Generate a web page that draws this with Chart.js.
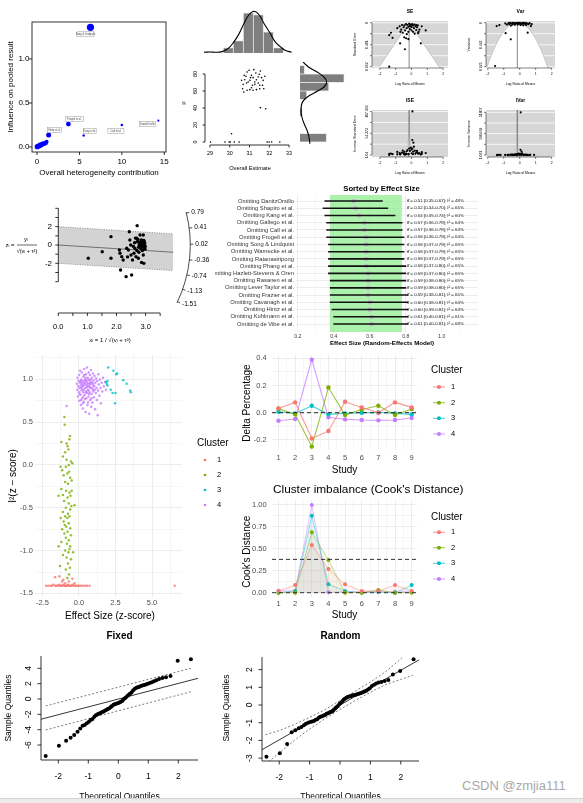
<!DOCTYPE html>
<html><head><meta charset="utf-8"><title>meta-analysis diagnostics</title>
<script src="https://cdn.jsdelivr.net/npm/chart.js@4.4.1/dist/chart.umd.min.js"></script>
<style>
html,body{margin:0;padding:0;background:#fff}
body{width:583px;height:803px;position:relative;overflow:hidden}
canvas{position:absolute}
#wm{position:absolute;left:462px;top:778px;font:13px "Liberation Sans",Arial,sans-serif;color:#a9a9a9;white-space:nowrap;z-index:10}
#bar{position:absolute;left:0;top:798px;width:583px;height:5px;background:#ececec;border-top:1px solid #d4d4d4;z-index:10}
</style></head><body>
<div id="wm">CSDN @zmjia111</div>
<div id="bar"></div>
<script>
// ===================== DATA =====================
const baujatX=[6.3,3.7,10.0,14.3,5.5,1.37,1.13,1.02,0.87,0.67,0.43,0.27,0.04,0.15,0.55];
const baujatY=[1.36,0.26,0.25,0.30,0.13,0.136,0.06,0.045,0.04,0.034,0.023,0.015,0.004,0.01,0.028];
const baujatSize=[3.6,2.4,1.3,1.1,1.2,2.5,2.0,2.2,2.4,2.5,2.6,2.6,2.7,2.4,2.3];
const baujatNames=["Song & Lindquist","Frogeli et al.","Call et al.","DanitzOrsillo","Kang et al.","Hintz et al."];
const baujatXTicks=[0,5,10,15];
const baujatYTicks=[0,0.5,1.0];
const goshPts=[[30.73,78.4],[30.88,82.4],[30.98,84.3],[31.10,78.4],[31.18,75.7],[30.76,73.3],[30.85,69.4],[30.93,70.6],[31.02,72.5],[31.15,66.7],[31.27,70.6],[31.35,73.3],[31.44,76.5],[31.49,79.6],[31.55,83.5],[31.32,81.2],[31.10,63.9],[30.88,60.8],[31.02,61.6],[31.18,60.8],[31.35,61.6],[31.52,62.7],[31.66,66.7],[31.72,62.7],[30.68,67.8],[30.65,62.7],[30.71,58.8],[31.44,69.4],[31.27,67.8],[31.22,85.1],[31.61,75.7],[31.69,72.5],[30.82,77.3],[31.05,75.7],[31.52,66.7],[30.60,72.5],[31.77,77.3],[29.03,0],[29.76,0],[29.97,0],[30.03,0],[30.23,0],[30.48,0],[31.89,0],[31.99,0],[32.12,0],[32.53,0],[31.55,40.4],[31.82,39.2],[30.09,9.8]];
const goshXTicks=[29,30,31,32,33];
const goshYTicks=[0,20,40,60,80];
const goshHistMid=[29.92,30.42,30.92,31.42,31.92,32.42];
const goshHistN=[3,7,23,22,12,3];
const goshDensTop=[[28.7,0.4],[29.0,0.6],[29.3,0.4],[29.6,0.8],[29.9,2.5],[30.17,6],[30.45,11],[30.7,17],[30.95,22],[31.2,24],[31.45,22],[31.7,17],[32.0,11.5],[32.25,6.5],[32.5,3.8],[32.75,1.6],[33.08,0.4]];
const goshRightMid=[5,15,25,35,45,55,65,75,85];
const goshRightN=[12,0,0,1,0,3,13,20,2];
const goshDensRight=[[1.0,98],[1.5,94],[4,88],[8,82],[11,76],[12.1,71],[11,65],[8,60],[4.5,55],[2,50],[0.8,45],[0.5,38],[0.8,30],[1.8,22],[3,15],[3.8,9],[4.2,4],[4.5,-2]];
const funnelEst=-0.15;
const funnelXTicks=[-2,-1,0,1,2];
const seData=[[-0.75,0.08],[-0.6,0.05],[-0.5,0.1],[-0.45,0.06],[-0.35,0.03],[-0.3,0.12],[-0.25,0.05],[-0.2,0.09],[-0.15,0.025],[-0.1,0.07],[-0.05,0.04],[0,0.1],[0.05,0.03],[0.1,0.06],[0.15,0.12],[0.2,0.04],[0.25,0.08],[0.3,0.05],[0.35,0.1],[0.4,0.06],[0.5,0.15],[-0.65,0.15],[-0.4,0.17],[-0.2,0.2],[0,0.17],[0.1,0.2],[-0.55,0.22],[0.3,0.16],[-0.1,0.14],[0.45,0.2],[-0.7,0.2],[-0.3,0.25],[0.2,0.24],[-1.3,0.22],[-1.41,0.27],[-1.2,0.33],[-0.72,0.45],[-0.46,0.32],[-0.34,0.34],[-0.2,0.36],[-0.42,0.58],[0.59,0.45],[0.9,0.17],[0.42,0.23],[-1.41,0.96],[0.65,0.08],[-0.9,0.12],[0.05,0.05],[-0.02,0.08]];
const varData=[[-0.7,0.01],[-0.6,0.004],[-0.5,0.012],[-0.42,0.003],[-0.35,0.02],[-0.28,0.006],[-0.22,0.015],[-0.15,0.002],[-0.1,0.01],[-0.05,0.025],[0,0.005],[0.05,0.015],[0.1,0.03],[0.15,0.008],[0.2,0.02],[0.25,0.004],[0.3,0.012],[0.35,0.025],[0.4,0.006],[0.48,0.018],[0.55,0.03],[0.62,0.01],[-0.65,0.03],[-0.45,0.04],[-0.3,0.045],[-0.12,0.04],[0.05,0.05],[0.22,0.055],[-0.55,0.06],[0.4,0.05],[-1.44,0.07],[-1.27,0.05],[-0.88,0.22],[-0.56,0.35],[0.5,0.21],[0.75,0.03],[-1.54,0.91],[-0.9,0.015],[-0.8,0.04],[0.7,0.07]];
const iseData=[[0.06,108],[0.05,37.8],[0.12,31.2],[0.15,21.4],[-0.05,19],[-0.15,17],[0.0,14],[0.2,12],[-0.3,10],[-0.25,13],[-0.1,11],[0.1,9],[0.3,8],[-0.45,9],[-0.6,7],[-0.75,6],[-0.5,5],[0.4,6],[0.5,5],[0.65,4],[-0.35,4.5],[0.25,4],[-0.2,3.5],[0,5],[0.1,3],[-0.7,3.5],[-0.4,3],[-0.9,2.5],[-1.3,4.5],[-1.41,3.7],[-1.2,3],[-0.72,2.2],[-0.46,3.1],[-0.34,2.9],[-0.2,2.8],[-0.42,1.7],[0.59,2.2],[0.9,5.9],[0.42,4.3],[-1.41,1.04],[0.65,8],[-0.9,8.5],[0.35,11],[-0.55,12],[0.05,17]];
const ivarData=[[0.06,11807],[0.05,1430],[0.12,975],[0.15,458],[-0.05,361],[-0.15,289],[0.0,196],[0.2,144],[-0.3,100],[-0.25,169],[-0.1,121],[0.1,81],[0.3,64],[-0.45,81],[-0.6,49],[-0.75,36],[-0.5,25],[0.4,36],[0.5,25],[0.65,16],[-0.35,20],[0.25,16],[-0.2,12],[0,25],[0.1,9],[-0.7,12],[-0.4,9],[-0.9,6],[-1.3,20],[-1.41,14],[-1.2,9],[-0.72,5],[-0.46,10],[-0.34,8],[-0.2,8],[-0.42,3],[0.59,5],[0.9,35],[0.42,18],[-1.41,1.08],[0.65,64],[-0.9,72],[0.35,121],[-0.55,144],[0.05,289]];
const seTicks=[0,0.2405,0.481,0.7215,0.962], seTickLab=['0','','0.481','','0.962'];
const varTicks=[0,0.231,0.463,0.694,0.925], varTickLab=['0','','0.463','','0.925'];
const iseTicks=[1.04,27.657,54.273,80.89,107.506], iseTickLab=['1.04','','54.273','','107.506'];
const ivarTicks=[1.081,2952.56,5904.04,8855.52,11807], ivarTickLab=['1.081','','5904.04','','11807'];
const radPts=[[1.03,-1.45],[1.51,-0.73],[1.81,0.91],[1.81,-1.45],[2.10,-0.55],[2.12,-0.9],[2.18,-1.27],[2.23,-1.64],[2.14,-2.73],[2.33,-3.45],[2.52,-3.27],[2.44,1.45],[2.46,0.55],[2.49,0.0],[2.41,-0.55],[2.50,-1.09],[2.55,-1.64],[2.35,-0.35],[2.38,-1.3],[2.6,-0.9],[2.71,2.11],[2.69,0.73],[2.71,0.36],[2.63,-0.36],[2.67,-1.27],[2.75,-1.45],[2.81,1.09],[2.86,0.55],[2.81,0.18],[2.92,1.09],[2.92,-1.09],[2.94,-2.0],[2.86,-1.9],[2.78,0.0],[2.82,-0.1],[2.85,0.1],[2.88,-0.2],[2.9,0.2],[2.93,0.0],[2.95,-0.3],[2.97,0.15],[2.8,0.3],[2.84,-0.4],[2.87,0.4],[2.91,-0.05],[2.96,0.32],[2.99,-0.15],[2.76,-0.25],[2.83,0.22],[2.89,-0.6],[2.94,0.5],[2.74,0.6],[2.65,0.75],[2.58,-0.15],[2.7,-0.6],[2.98,-0.45],[2.77,-0.8],[2.62,0.25]];
const radSlope=-0.2, radBand=2, radXEnd=3.95;
const radYTicks=[-4,-3,-2,-1,0,1,2,3,4], radYLab=['','','-2','','0','','2','',''];
const radXTicks=[0,0.5,1,1.5,2,2.5,3,3.5], radXLab=['0.0','','1.0','','2.0','','3.0',''];
const radArcTicks=[0.79,0.41,0.02,-0.36,-0.74,-1.13,-1.51];
const forestNames=["Omitting DanitzOrsillo","Omitting Shapiro et al.","Omitting Kang et al.","Omitting Gallego et al.","Omitting Call et al.","Omitting Frogeli et al.","Omitting Song & Lindquist","Omitting Warnecke et al.","Omitting Ratanasiripong","Omitting Phang et al.","Omitting Hazlett-Stevens & Oren","Omitting Rasanen et al.","Omitting Lever Taylor et al.","Omitting Frazier et al.","Omitting Cavanagh et al.","Omitting Hintz et al.","Omitting Kuhlmann et al.","Omitting de Vibe et al."];
const forestEst=[0.51,0.52,0.54,0.57,0.57,0.58,0.58,0.58,0.58,0.58,0.59,0.59,0.59,0.59,0.60,0.60,0.61,0.61];
const forestLo=[0.35,0.34,0.35,0.36,0.36,0.36,0.37,0.37,0.37,0.37,0.37,0.38,0.38,0.38,0.38,0.39,0.40,0.40];
const forestHi=[0.67,0.70,0.74,0.78,0.78,0.79,0.79,0.79,0.79,0.80,0.80,0.80,0.80,0.81,0.81,0.81,0.81,0.81];
const forestI2=[48,65,60,64,64,64,65,65,65,65,65,65,65,65,64,64,61,68];
const forestBand=[0.378,0.778];
const forestXTicks=[0.2,0.3,0.4,0.5,0.6,0.7,0.8,0.9,1.0,1.1];
const cl1=[[-2.25,-1.41],[-2.1,-1.41],[-1.95,-1.41],[-1.85,-1.41],[-1.75,-1.4],[-1.62,-1.41],[-1.55,-1.41],[-1.45,-1.41],[-1.38,-1.4],[-1.3,-1.41],[-1.22,-1.41],[-1.15,-1.41],[-1.08,-1.4],[-1.0,-1.41],[-0.95,-1.41],[-0.88,-1.41],[-0.8,-1.41],[-0.75,-1.4],[-0.68,-1.41],[-0.6,-1.41],[-0.52,-1.41],[-0.45,-1.4],[-0.38,-1.41],[-0.3,-1.41],[-0.2,-1.41],[-0.1,-1.41],[0.0,-1.41],[0.12,-1.41],[0.25,-1.41],[0.4,-1.41],[0.55,-1.41],[0.72,-1.41],[6.55,-1.41],[-1.64,-1.31],[-1.34,-1.3],[-1.07,-1.34],[-0.95,-1.38],[-0.7,-1.36],[-0.45,-1.33],[-1.15,-1.36],[-0.3,-1.38]];
const cl2=[[-1.0,0.56],[-0.98,0.47],[-1.2,0.27],[-0.62,0.34],[-0.66,0.3],[-0.78,0.22],[-0.72,0.18],[-0.95,0.15],[-1.1,0.1],[-0.85,0.06],[-0.55,0.04],[-1.25,-0.02],[-1.15,-0.06],[-0.9,-0.02],[-0.7,0.0],[-0.45,0.02],[-0.8,-0.1],[-1.05,-0.12],[-0.6,-0.15],[-0.95,-0.2],[-0.75,-0.22],[-0.5,-0.18],[-1.2,-0.28],[-0.88,-0.3],[-0.65,-0.32],[-1.4,-0.36],[-0.78,-0.38],[-0.58,-0.36],[-1.02,-0.42],[-0.7,-0.45],[-0.52,-0.48],[-0.3,-0.47],[-0.9,-0.5],[-0.6,-0.52],[-1.1,-0.55],[-0.75,-0.57],[-0.95,-0.6],[-0.8,-0.62],[-0.65,-0.6],[-1.05,-0.66],[-0.7,-0.68],[-0.87,-0.72],[-1.15,-0.75],[-0.6,-0.74],[-0.78,-0.78],[-1.0,-0.8],[-0.55,-0.82],[-0.9,-0.85],[-0.7,-0.88],[-1.2,-0.9],[-0.82,-0.92],[-1.4,-0.95],[-0.6,-0.95],[-0.95,-1.0],[-0.72,-1.02],[-0.4,-1.02],[-1.1,-1.05],[-0.85,-1.08],[-0.55,-1.1],[-0.75,-1.15],[-1.3,-1.18],[-0.62,-1.2],[-0.9,-1.22],[-0.68,-1.28],[-0.8,-1.32],[-1.25,-0.62],[-1.1,-0.35],[-0.68,-0.08],[-0.85,0.25],[-0.5,-0.3],[-0.98,-0.7],[-0.65,-0.98]];
const cl3=[[2.0,1.14],[2.35,1.10],[2.6,1.07],[2.55,1.06],[1.85,0.97],[1.95,0.93],[1.9,0.95],[2.17,0.88],[2.3,0.84],[2.5,0.84],[2.47,0.72],[3.03,0.99],[3.26,0.95],[3.5,0.87],[3.55,0.85],[1.95,0.98]];
const cl4=[[-0.84,0.69],[-0.15,0.95],[-0.12,0.88],[-0.1,1.02],[-0.08,0.8],[-0.05,0.92],[-0.03,0.98],[0.0,0.85],[0.02,1.05],[0.03,0.75],[0.05,0.9],[0.07,0.96],[0.08,1.1],[0.1,0.82],[0.12,0.93],[0.13,0.7],[0.15,1.0],[0.17,0.87],[0.18,0.95],[0.2,1.08],[0.21,0.78],[0.23,0.91],[0.25,0.98],[0.26,0.66],[0.28,0.85],[0.3,1.03],[0.31,0.93],[0.33,0.74],[0.35,0.88],[0.36,1.12],[0.38,0.96],[0.4,0.82],[0.41,1.0],[0.43,0.9],[0.45,0.62],[0.46,0.94],[0.48,1.06],[0.5,0.86],[0.51,0.78],[0.53,0.97],[0.55,1.14],[0.56,0.91],[0.58,0.7],[0.6,1.02],[0.61,0.88],[0.63,0.95],[0.65,0.8],[0.66,1.08],[0.68,0.92],[0.7,0.6],[0.71,0.99],[0.73,0.85],[0.75,1.05],[0.76,0.76],[0.78,0.94],[0.8,0.9],[0.82,1.11],[0.83,0.68],[0.85,0.97],[0.87,0.83],[0.88,1.02],[0.9,0.9],[0.92,0.73],[0.94,0.95],[0.96,1.07],[0.98,0.86],[1.0,0.99],[1.02,0.79],[1.04,0.92],[1.06,1.04],[1.08,0.88],[1.1,0.65],[1.12,0.96],[1.15,0.84],[1.17,1.01],[1.2,0.9],[1.22,0.76],[1.25,0.98],[1.28,0.58],[1.3,0.87],[1.33,1.06],[1.36,0.94],[1.4,0.81],[1.43,1.0],[1.47,0.9],[1.5,0.72],[1.55,0.96],[1.6,0.86],[1.65,1.02],[1.7,0.92],[1.78,0.97],[1.85,0.88],[0.15,0.9],[0.25,0.88],[0.35,0.95],[0.45,0.85],[0.55,0.92],[0.65,0.87],[0.75,0.96],[0.2,0.97],[0.4,0.98],[0.6,0.95],[0.3,0.8],[0.5,0.99],[0.7,0.83],[0.8,1.0],[0.1,0.98],[0.9,0.96],[0.35,1.05],[0.55,0.84],[0.45,1.02],[0.25,0.93],[0.65,1.0],[0.05,0.83],[0.95,0.88],[0.15,0.76],[0.85,0.78],[1.0,0.93],[0.28,0.72],[0.62,0.73],[0.42,0.77],[0.72,0.91]];
const clusterLabels=['1','2','3','4'];
const studies=[1,2,3,4,5,6,7,8,9];
const delta1=[0.032,0.076,-0.19,-0.134,0.08,0.039,0.0,0.076,0.039];
const delta2=[0.03,-0.012,-0.249,0.185,-0.017,0.024,0.051,-0.017,0.027];
const delta3=[0.007,-0.005,0.051,-0.012,-0.005,0.0,0.002,-0.005,-0.012];
const delta4=[-0.059,-0.046,0.39,-0.034,-0.049,-0.054,-0.056,-0.054,-0.039];
const cook1=[0.02,0.087,0.544,0.27,0.095,0.02,0.02,0.087,0.02];
const cook2=[0,0,0.688,0.373,0,0,0.03,0,0];
const cook3=[0,0.02,0.878,0.095,0.02,0,0.01,0,0.087];
const cook4=[0.022,0.02,1.0,0.004,0.01,0.01,0.01,0.01,0.01];
const cookCut=0.38;
const qqTheo=[-2.42,-1.98,-1.74,-1.59,-1.47,-1.36,-1.27,-1.19,-1.12,-1.05,-0.98,-0.92,-0.86,-0.8,-0.75,-0.69,-0.64,-0.59,-0.54,-0.49,-0.44,-0.39,-0.35,-0.3,-0.25,-0.21,-0.16,-0.12,-0.07,-0.02,0.02,0.07,0.12,0.16,0.21,0.25,0.3,0.35,0.39,0.44,0.49,0.54,0.59,0.64,0.69,0.75,0.8,0.86,0.92,0.98,1.05,1.12,1.19,1.27,1.36,1.47,1.59,1.74,1.98,2.42];
const qqFixed=[-7.43,-6.08,-5.43,-5.04,-4.69,-4.26,-3.83,-3.5,-3.39,-3.15,-2.95,-2.75,-2.6,-2.3,-2.12,-2.0,-1.9,-1.82,-1.7,-1.62,-1.5,-1.4,-1.3,-1.2,-1.05,-0.9,-0.75,-0.68,-0.62,-0.56,-0.48,-0.4,-0.3,-0.1,0.05,0.2,0.4,0.55,0.7,0.85,1.1,1.3,1.42,1.52,1.58,1.68,1.75,1.83,1.9,2.0,2.08,2.18,2.3,2.45,2.6,2.75,2.85,3.0,5.0,5.17];
const qqRandom=[-2.92,-2.73,-2.2,-1.54,-1.42,-1.32,-1.25,-1.15,-1.06,-1.0,-0.96,-0.93,-0.9,-0.84,-0.8,-0.7,-0.66,-0.63,-0.6,-0.56,-0.5,-0.46,-0.43,-0.4,-0.35,-0.28,-0.2,-0.13,-0.06,0.05,0.12,0.2,0.3,0.36,0.41,0.45,0.48,0.5,0.53,0.55,0.57,0.59,0.62,0.65,0.68,0.72,0.76,0.8,0.87,0.95,1.07,1.15,1.22,1.27,1.3,1.35,1.41,1.73,1.92,2.58];
const fixedLine=[[-2.59,-2.65],[2.66,2.7]];
const fixedUpper=[[-2.42,-0.91],[2.42,4.0]];
const fixedLower=[[-2.42,-4.04],[2.42,0.95]];
const randLine=[[-2.58,-2.54],[2.63,2.58]];
const randUpper=[[-2.45,-1.68],[-2.0,-1.45],[-1.5,-1.1],[-1.0,-0.7],[-0.5,-0.27],[0,0.25],[0.5,0.78],[1.0,1.3],[1.5,1.88],[2.0,2.6],[2.3,3.1]];
const randLower=[[-2.35,-3.2],[-2.0,-2.72],[-1.5,-2.0],[-1.0,-1.35],[-0.5,-0.78],[0,-0.25],[0.5,0.25],[1.0,0.72],[1.5,1.15],[2.0,1.45],[2.4,1.68]];
const qqXTicks=[-2,-1,0,1,2];
const fixedYTicks=[-6,-4,-2,0,2,4];
const randYTicks=[-3,-2,-1,0,1,2];

// ===================== HELPERS =====================
const FF='"Liberation Sans", Arial, Helvetica, sans-serif';
Chart.defaults.animation=false;Chart.defaults.responsive=false;Chart.defaults.maintainAspectRatio=false;
Chart.defaults.events=[];Chart.defaults.font.family=FF;
Chart.defaults.plugins.legend.display=false;Chart.defaults.plugins.tooltip.enabled=false;
const F=(s,w)=>(w?w+' ':'')+s+'px '+FF;
const ROT=-Math.PI/2;
const CL=['#F8766D','#7CAE00','#00BFC4','#C77CFF'];
function rgba(h,a){const n=parseInt(h.slice(1),16);return 'rgba('+(n>>16)+','+((n>>8)&255)+','+(n&255)+','+a+')';}
function mk(b){const c=document.createElement('canvas');c.width=b.w;c.height=b.h;c.style.left=b.l+'px';c.style.top=b.t+'px';c.style.width=b.w+'px';c.style.height=b.h+'px';document.body.appendChild(c);return c;}
function P(b,a){return{left:a.l-b.l,top:a.t-b.t,right:b.l+b.w-a.r,bottom:b.t+b.h-a.b};}
function HS(min,max,rev){return{type:'linear',display:false,min:min,max:max,reverse:!!rev,offset:false,grid:{offset:false}};}
function T(ctx,s,x,y,o){o=o||{};ctx.save();ctx.font=o.f||F(8);ctx.fillStyle=o.c||'#000';ctx.textAlign=o.a||'center';ctx.textBaseline=o.b||'middle';ctx.translate(x,y);if(o.r)ctx.rotate(o.r);ctx.fillText(s,0,0);ctx.restore();}
let UID=0;
function after(b,fn,hook){const p={id:'p'+(UID++)};p[hook||'afterDraw']=function(c){const ctx=c.ctx;ctx.save();ctx.translate(-b.l,-b.t);fn(c,ctx);ctx.restore();};return p;}
function A(c,b){const a=c.chartArea;return{l:a.left+b.l,r:a.right+b.l,t:a.top+b.t,bo:a.bottom+b.t};}
function X(c,b,v){return c.scales.x.getPixelForValue(v)+b.l;}
function Y(c,b,v){return c.scales.y.getPixelForValue(v)+b.t;}
function rAxis(c,b,s){
  const ctx=c.ctx,a=A(c,b),tl=(s.tl==null?3:s.tl),col=s.col||'#000';
  ctx.save();ctx.strokeStyle=col;ctx.lineWidth=s.lw||0.8;ctx.beginPath();
  if(s.side==='b'){
    const y=(s.pos==null?a.bo:s.pos),Pp=s.ticks.map(v=>X(c,b,v));
    if(s.line!==false){ctx.moveTo(s.full?a.l:Pp[0],y);ctx.lineTo(s.full?a.r:Pp[Pp.length-1],y);}
    Pp.forEach(p=>{ctx.moveTo(p,y);ctx.lineTo(p,y+tl);});ctx.stroke();
    Pp.forEach((p,i)=>{if(s.labels[i])T(ctx,s.labels[i],p,y+s.lo,{f:s.font,c:col});});
  }else{
    const x=(s.pos==null?a.l:s.pos),Pp=s.ticks.map(v=>Y(c,b,v));
    if(s.line!==false){ctx.moveTo(x,s.full?a.t:Math.min.apply(null,Pp));ctx.lineTo(x,s.full?a.bo:Math.max.apply(null,Pp));}
    Pp.forEach(p=>{ctx.moveTo(x,p);ctx.lineTo(x-tl,p);});ctx.stroke();
    Pp.forEach((p,i)=>{if(s.labels[i])T(ctx,s.labels[i],x-s.lo,p,s.horiz?{f:s.font,c:col,a:'right'}:{f:s.font,c:col,r:ROT});});
  }
  ctx.restore();
}
function ggAxis(o){
  return {type:'linear',min:o.min,max:o.max,reverse:!!o.reverse,offset:false,
    afterFit(s){if(o.axis==='x')s.height=o.fit;else s.width=o.fit;},
    afterBuildTicks(s){s.ticks=o.ticks.map(v=>({value:v}));},
    ticks:{autoSkip:false,maxRotation:0,minRotation:0,padding:o.pad,color:o.color||'#4d4d4d',font:{size:o.size,family:FF},
      callback:(v)=>o.major(v)?o.label(v):''},
    grid:{color:'#ebebeb',offset:false,lineWidth:(cx)=>(cx.tick&&o.major(cx.tick.value))?0.9:0.45,drawTicks:false},
    border:{display:false}};
}
function ggLegend(ctx,x,ty,ys,line,r){
  T(ctx,'Cluster',x,ty,{f:F(10),a:'left'});
  ys.forEach((y,i)=>{
    if(line){ctx.save();ctx.strokeStyle=rgba(CL[i],0.75);ctx.lineWidth=1;ctx.beginPath();ctx.moveTo(x+2,y);ctx.lineTo(x+14,y);ctx.stroke();ctx.restore();}
    ctx.save();ctx.fillStyle=CL[i];ctx.beginPath();ctx.arc(x+8,y,r,0,7);ctx.fill();ctx.restore();
    T(ctx,clusterLabels[i],x+20,y,{f:F(7.5),a:'left',c:'#000'});
  });
}
const isMult=(v,m)=>Math.abs(v/m-Math.round(v/m))<1e-6;

// ===================== A. BAUJAT =====================
{const b={l:0,t:0,w:180,h:185},a={l:32,t:22,r:166,b:152};
const LOFF=[[-5,7,17],[6,-5,18],[-6,6,16],[-11,3.5,16],[6,-4.5,13],[6,-5,14]];
new Chart(mk(b),{type:'scatter',data:{datasets:[{data:baujatX.map((x,i)=>({x:x,y:baujatY[i]})),pointRadius:baujatSize,backgroundColor:'#0000ff',borderWidth:0}]},
options:{layout:{padding:P(b,a)},scales:{x:HS(-0.59,15.2),y:HS(-0.057,1.42)}},
plugins:[after(b,(c,ctx)=>{
  const r=A(c,b);ctx.strokeStyle='#000';ctx.lineWidth=0.8;ctx.strokeRect(r.l,r.t,r.r-r.l,r.bo-r.t);
  rAxis(c,b,{side:'b',ticks:baujatXTicks,labels:baujatXTicks.map(String),tl:3,lo:10,font:F(8),line:false});
  rAxis(c,b,{side:'l',ticks:baujatYTicks,labels:baujatYTicks.map(v=>v.toFixed(1)),tl:3,lo:2.5,font:F(8),line:false,horiz:true});
  T(ctx,'Overall heterogeneity contribution',(r.l+r.r)/2,173,{f:F(8)});
  T(ctx,'Influence on pooled result',11,(r.t+r.bo)/2,{f:F(8),r:ROT});
  baujatNames.forEach((n,i)=>{const o=LOFF[i];const cx=X(c,b,baujatX[i])+o[0],cy=Y(c,b,baujatY[i])+o[1],w=o[2],h=5;
    ctx.fillStyle='#fff';ctx.fillRect(cx-w/2,cy-h/2,w,h);ctx.strokeStyle='#9a9a9a';ctx.lineWidth=0.5;ctx.strokeRect(cx-w/2,cy-h/2,w,h);
    T(ctx,n,cx,cy,{f:F(2.6),c:'#444'});});
})]});}

// ===================== B. GOSH =====================
{const b={l:195,t:0,w:110,h:58},a={l:200,t:5,r:300,b:53};
new Chart(mk(b),{type:'bar',data:{datasets:[
  {type:'line',data:goshDensTop.map(p=>({x:p[0],y:p[1]})),borderColor:'#000',borderWidth:1.1,pointRadius:0,tension:0.4,order:0},
  {type:'bar',data:goshHistMid.map((x,i)=>({x:x,y:goshHistN[i]})),backgroundColor:'#7f7f7f',borderColor:'#d9d9d9',borderWidth:0.8,barPercentage:1,categoryPercentage:1,order:1}
]},options:{layout:{padding:P(b,a)},scales:{x:HS(28.5,33.5),y:HS(0,27.6)}}});}
{const b={l:176,t:55,w:124,h:122},a={l:205,t:62,r:297,b:145};
new Chart(mk(b),{type:'scatter',data:{datasets:[{data:goshPts.map(p=>({x:p[0],y:p[1]})),pointRadius:0.8,backgroundColor:'#000',borderWidth:0}]},
options:{layout:{padding:P(b,a)},scales:{x:HS(28.75,33.35),y:HS(-3.5,94.1)}},
plugins:[after(b,(c,ctx)=>{
  rAxis(c,b,{side:'b',ticks:goshXTicks,labels:goshXTicks.map(String),tl:2.5,lo:9,font:F(5.4)});
  rAxis(c,b,{side:'l',ticks:goshYTicks,labels:goshYTicks.map(String),tl:2.5,lo:9,font:F(5.4)});
  T(ctx,'Overall Estimate',250,168,{f:F(5.7)});
  T(ctx,'I\u00B2',184,103,{f:F(5.7),r:ROT});
})]});}
{const b={l:298,t:55,w:58,h:100},a={l:300,t:62,r:352,b:145};
new Chart(mk(b),{type:'bar',data:{datasets:[
  {type:'line',data:goshDensRight.map(p=>({x:p[0],y:p[1]})),borderColor:'#000',borderWidth:1.1,pointRadius:0,tension:0.4,order:0},
  {type:'bar',indexAxis:'y',data:goshRightMid.map((y,i)=>({x:goshRightN[i],y:y})),backgroundColor:'#7f7f7f',borderColor:'#d9d9d9',borderWidth:0.8,barPercentage:1,categoryPercentage:1,order:1}
]},options:{layout:{padding:P(b,a)},scales:{x:HS(0,23.6),y:HS(-3.5,94.1)}}});}

// ===================== C. FUNNELS =====================
function funnel(b,a,xr,yr,rev,kind,pts,yt,ylab,title,ytitle){
  new Chart(mk(b),{type:'scatter',data:{datasets:[{data:pts.map(p=>({x:p[0],y:p[1]})),pointRadius:1.1,backgroundColor:'#000',borderWidth:0}]},
  options:{layout:{padding:P(b,a)},scales:{x:HS(xr[0],xr[1]),y:HS(yr[0],yr[1],rev)}},
  plugins:[after(b,(c,ctx)=>{
    const r=A(c,b);ctx.save();ctx.beginPath();ctx.rect(r.l,r.t,r.r-r.l,r.bo-r.t);ctx.clip();
    ctx.fillStyle='#d6d6d6';ctx.fillRect(r.l,r.t,r.r-r.l,r.bo-r.t);
    ctx.strokeStyle='#fff';ctx.lineWidth=0.8;ctx.beginPath();yt.forEach(v=>{const y=Y(c,b,v);ctx.moveTo(r.l,y);ctx.lineTo(r.r,y);});ctx.stroke();
    const hw=v=>kind==='se'?1.96*v:kind==='var'?1.96*Math.sqrt(v):kind==='ise'?1.96/v:1.96/Math.sqrt(v);
    const N=240,L=[],R=[];
    for(let i=0;i<=N;i++){const t=i/N;let v;if(kind==='se'||kind==='var'){v=yr[1]*t;}else{const lo=kind==='ise'?0.3:0.1;v=lo*Math.pow(yr[1]/lo,t);}
      const h=hw(v);L.push([X(c,b,funnelEst-h),Y(c,b,v)]);R.push([X(c,b,funnelEst+h),Y(c,b,v)]);}
    ctx.fillStyle='#fff';ctx.beginPath();L.forEach((p,i)=>i?ctx.lineTo(p[0],p[1]):ctx.moveTo(p[0],p[1]));R.slice().reverse().forEach(p=>ctx.lineTo(p[0],p[1]));ctx.closePath();ctx.fill();
    ctx.strokeStyle='#9a9a9a';ctx.lineWidth=0.5;ctx.beginPath();L.forEach((p,i)=>i?ctx.lineTo(p[0],p[1]):ctx.moveTo(p[0],p[1]));ctx.stroke();
    ctx.beginPath();R.forEach((p,i)=>i?ctx.lineTo(p[0],p[1]):ctx.moveTo(p[0],p[1]));ctx.stroke();
    const cx=X(c,b,funnelEst);const y0=(kind==='se'||kind==='var')?Y(c,b,0):r.bo;const y1=(kind==='se'||kind==='var')?r.bo:r.t;
    ctx.strokeStyle='#555';ctx.lineWidth=0.7;ctx.beginPath();ctx.moveTo(cx,y0);ctx.lineTo(cx,y1);ctx.stroke();
    ctx.restore();
  },'beforeDatasetsDraw'),after(b,(c,ctx)=>{
    const r=A(c,b);
    rAxis(c,b,{side:'l',ticks:yt,labels:ylab,tl:2,lo:5,font:F(3.4),lw:0.5});
    rAxis(c,b,{side:'b',ticks:funnelXTicks,labels:funnelXTicks.map(String),tl:2,lo:6,font:F(3.4),lw:0.5});
    T(ctx,title,(r.l+r.r)/2,r.t-9,{f:F(5,'bold')});
    T(ctx,'Log Ratio of Means',(r.l+r.r)/2,r.bo+16,{f:F(3.4)});
    T(ctx,ytitle,r.l-17,(r.t+r.bo)/2,{f:F(3.6),r:ROT});
  })]});
}
funnel({l:340,t:3,w:112,h:92},{l:372,t:21,r:448,b:68},[-2.5,2.31],[-0.037,0.99],true,'se',seData,seTicks,seTickLab,'SE','Standard Error');
funnel({l:452,t:3,w:110,h:92},{l:486,t:21,r:555,b:68},[-2.11,2.21],[-0.036,0.952],true,'var',varData,varTicks,varTickLab,'Var','Variance');
funnel({l:340,t:92,w:112,h:88},{l:372,t:110,r:448,b:157},[-2.5,2.31],[-3.87,111.4],false,'ise',iseData,iseTicks,iseTickLab,'ISE','Inverse Standard Error');
funnel({l:452,t:92,w:110,h:88},{l:486,t:110,r:555,b:157},[-2.11,2.21],[-552,12443],false,'ivar',ivarData,ivarTicks,ivarTickLab,'IVar','Inverse Variance');

// ===================== D. RADIAL =====================
{const b={l:0,t:195,w:215,h:155},a={l:40,t:200,r:200,b:305};
new Chart(mk(b),{type:'scatter',data:{datasets:[
  {type:'line',data:[{x:0,y:radBand},{x:radXEnd,y:radBand+radXEnd*radSlope}],borderColor:'#777',borderWidth:0.7,borderDash:[1.2,1.2],pointRadius:0,fill:'+1',backgroundColor:'#d3d3d3',order:3},
  {type:'line',data:[{x:0,y:-radBand},{x:radXEnd,y:-radBand+radXEnd*radSlope}],borderColor:'#777',borderWidth:0.7,borderDash:[1.2,1.2],pointRadius:0,fill:false,order:2},
  {type:'line',data:[{x:0,y:0},{x:radXEnd,y:radXEnd*radSlope}],borderColor:'#555',borderWidth:0.8,pointRadius:0,fill:false,order:1},
  {type:'scatter',data:radPts.map(p=>({x:p[0],y:p[1]})),pointRadius:1.7,backgroundColor:'#000',borderWidth:0,order:0}
]},options:{layout:{padding:P(b,a)},scales:{x:HS((40-58.3)/29.1,(200-58.3)/29.1),y:HS((245-305)/9.17,(245-200)/9.17)}},
plugins:[after(b,(c,ctx)=>{
  rAxis(c,b,{side:'l',pos:X(c,b,0),ticks:radYTicks,labels:radYLab,tl:3,lo:6.3,font:F(8),horiz:true});
  rAxis(c,b,{side:'b',pos:313,ticks:radXTicks,labels:radXLab,tl:3,lo:14,font:F(7.5)});
  T(ctx,'x\u1D62 = 1 / \u221A(v\u1D62 + \u03C4\u00B2)',110,340,{f:F(6)});
  T(ctx,'z\u1D62 =',10,245,{f:F(6)});
  T(ctx,'y\u1D62',26,239,{f:F(6)});
  ctx.strokeStyle='#000';ctx.lineWidth=0.6;ctx.beginPath();ctx.moveTo(17,245);ctx.lineTo(37,245);ctx.stroke();
  T(ctx,'\u221A(v\u1D62 + \u03C4\u00B2)',27,251.5,{f:F(5.5)});
  const ox=X(c,b,0),oy=Y(c,b,0),R=132;
  const dir=t=>{const dx=X(c,b,1)-ox,dy=Y(c,b,t)-oy,n=Math.hypot(dx,dy);return[dx/n,dy/n];};
  const angs=radArcTicks.map(t=>{const d=dir(t);return Math.atan2(d[1],d[0]);});
  ctx.strokeStyle='#000';ctx.lineWidth=0.7;ctx.beginPath();ctx.arc(ox,oy,R,Math.min.apply(null,angs)-0.01,Math.max.apply(null,angs)+0.01);ctx.stroke();
  ctx.beginPath();radArcTicks.forEach(t=>{const d=dir(t);ctx.moveTo(ox+R*d[0],oy+R*d[1]);ctx.lineTo(ox+(R+3)*d[0],oy+(R+3)*d[1]);});ctx.stroke();
  radArcTicks.forEach(t=>{const d=dir(t);T(ctx,t.toFixed(2),ox+(R+5)*d[0],oy+(R+5)*d[1],{f:F(6.5),a:'left'});});
})]});}

// ===================== E. FOREST =====================
{const b={l:215,t:183,w:270,h:165};
new Chart(mk(b),{type:'bar',data:{datasets:[
  {type:'bar',indexAxis:'y',data:forestNames.map((n,i)=>({y:i,x:[forestLo[i],forestHi[i]]})),backgroundColor:'#111',barThickness:0.9,order:0},
  {type:'scatter',data:forestNames.map((n,i)=>({x:forestEst[i],y:i})),pointStyle:'rect',pointRadius:2.7,backgroundColor:'#bdb7c4',borderWidth:0,order:1}
]},options:{layout:{padding:{left:0,top:12,right:7,bottom:0}},
  scales:{x:ggAxis({axis:'x',min:0.19,max:1.201,ticks:forestXTicks,major:v=>isMult(v,0.2)&&v<1.05,label:v=>v.toFixed(1),size:5,pad:1.6,fit:16,color:'#333'}),
          y:ggAxis({axis:'y',min:-0.83,max:18.1,reverse:true,ticks:forestNames.map((n,i)=>i),major:()=>true,label:v=>forestNames[Math.round(v)],size:5.8,pad:2,fit:81,color:'#333'})}},
plugins:[after(b,(c,ctx)=>{
  const r=A(c,b);const x0=X(c,b,forestBand[0]),x1=X(c,b,forestBand[1]);
  ctx.fillStyle='rgba(144,238,144,0.75)';ctx.fillRect(x0,r.t,x1-x0,r.bo-r.t);
},'beforeDatasetsDraw'),after(b,(c,ctx)=>{
  T(ctx,'Sorted by Effect Size',381.5,189,{f:F(7.7,'bold')});
  T(ctx,'Effect Size (Random-Effects Model)',382,343.5,{f:F(6.2,'bold')});
  forestNames.forEach((n,i)=>{T(ctx,'\u03B8\u0302 = '+forestEst[i].toFixed(2)+' ['+forestLo[i].toFixed(2)+'-'+forestHi[i].toFixed(2)+']; I\u00B2 = '+forestI2[i]+'%',X(c,b,0.805),Y(c,b,i),{f:F(4.4),a:'left',c:'#222'});});
})]});}

// ===================== F. CLUSTER SCATTER =====================
{const b={l:0,t:345,w:232,h:280};
const sets=[cl1,cl2,cl3,cl4];
new Chart(mk(b),{type:'scatter',data:{datasets:sets.map((s,k)=>({data:s.map(p=>({x:p[0],y:p[1]})),pointRadius:1.25,backgroundColor:rgba(CL[k],0.8),borderWidth:0}))},
options:{layout:{padding:{left:0,top:10,right:50,bottom:0}},
  scales:{x:ggAxis({axis:'x',min:-3.01,max:7.05,ticks:[-2.5,-1.25,0,1.25,2.5,3.75,5,6.25],major:v=>isMult(v,2.5),label:v=>v.toFixed(1),size:7.5,pad:1.5,fit:28}),
          y:ggAxis({axis:'y',min:-1.542,max:1.285,ticks:[-1.5,-1.25,-1,-0.75,-0.5,-0.25,0,0.25,0.5,0.75,1,1.25],major:v=>isMult(v,0.5),label:v=>v.toFixed(1),size:7.5,pad:2,fit:35})}},
plugins:[after(b,(c,ctx)=>{
  T(ctx,'Effect Size (z-score)',110,616,{f:F(10)});
  T(ctx,'I\u00B2(z \u2212 score)',13,476,{f:F(10),r:ROT});
  ggLegend(ctx,197,443,[460,475,490,505],false,1.3);
})]});}

// ===================== G. DELTA PERCENTAGE =====================
{const b={l:235,t:345,w:245,h:133};
const ser=[delta1,delta2,delta3,delta4];
new Chart(mk(b),{type:'line',data:{datasets:ser.map((d,k)=>({data:studies.map((s,i)=>({x:s,y:d[i]})),borderColor:rgba(CL[k],0.75),backgroundColor:CL[k],pointBackgroundColor:CL[k],pointBorderWidth:0,pointRadius:2.2,borderWidth:1.1,fill:false}))},
options:{layout:{padding:{left:0,top:10,right:63,bottom:0}},
  scales:{x:ggAxis({axis:'x',min:0.61,max:9.32,ticks:[1,1.5,2,2.5,3,3.5,4,4.5,5,5.5,6,6.5,7,7.5,8,8.5,9],major:v=>Number.isInteger(v),label:v=>String(v),size:7.5,pad:3.5,fit:28}),
          y:ggAxis({axis:'y',min:-0.274,max:0.424,ticks:[-0.2,-0.1,0,0.1,0.2,0.3,0.4],major:v=>isMult(v,0.2),label:v=>v.toFixed(1),size:7.5,pad:5.3,fit:37})}},
plugins:[after(b,(c,ctx)=>{
  const r=A(c,b),y=Y(c,b,0);ctx.strokeStyle='#222';ctx.lineWidth=1;ctx.setLineDash([4,3]);ctx.beginPath();ctx.moveTo(r.l,y);ctx.lineTo(r.r,y);ctx.stroke();ctx.setLineDash([]);
},'afterDatasetsDraw'),after(b,(c,ctx)=>{
  T(ctx,'Study',344.5,470,{f:F(10)});
  T(ctx,'Delta Percentage',247,403,{f:F(10),r:ROT});
  ggLegend(ctx,431,370,[387,402.7,418.3,434],true,2);
})]});}

// ===================== H. COOK'S DISTANCE =====================
{const b={l:235,t:478,w:245,h:147};
const ser=[cook1,cook2,cook3,cook4];
new Chart(mk(b),{type:'line',data:{datasets:ser.map((d,k)=>({data:studies.map((s,i)=>({x:s,y:d[i]})),borderColor:rgba(CL[k],0.55),backgroundColor:rgba(CL[k],0.07),pointBackgroundColor:CL[k],pointBorderWidth:0,pointRadius:2,borderWidth:0.8,fill:'origin'}))},
options:{layout:{padding:{left:0,top:22,right:63,bottom:0}},
  scales:{x:ggAxis({axis:'x',min:0.61,max:9.32,ticks:[1,1.5,2,2.5,3,3.5,4,4.5,5,5.5,6,6.5,7,7.5,8,8.5,9],major:v=>Number.isInteger(v),label:v=>String(v),size:7.5,pad:2.5,fit:28}),
          y:ggAxis({axis:'y',min:-0.049,max:1.057,ticks:[0,0.125,0.25,0.375,0.5,0.625,0.75,0.875,1],major:v=>isMult(v,0.25),label:v=>v.toFixed(2),size:7.5,pad:5.3,fit:37})}},
plugins:[after(b,(c,ctx)=>{
  const r=A(c,b);ctx.strokeStyle='#333';ctx.lineWidth=1;ctx.setLineDash([4,3]);
  [cookCut,0].forEach(v=>{const y=Y(c,b,v);ctx.beginPath();ctx.moveTo(r.l,y);ctx.lineTo(r.r,y);ctx.stroke();});ctx.setLineDash([]);
},'afterDatasetsDraw'),after(b,(c,ctx)=>{
  T(ctx,'Cluster imbalance (Cook\'s Distance)',273,490,{f:F(11.8),a:'left'});
  T(ctx,'Study',344.5,615,{f:F(10)});
  T(ctx,'Cook\'s Distance',247,551.7,{f:F(10),r:ROT});
  ggLegend(ctx,431,517,[532.3,547.7,563.3,579],true,2);
})]});}

// ===================== I/J. QQ PLOTS =====================
function qq(b,a,xr,yr,samp,line,up,lo,yt,title,ytx){
  const seg=(pts,dash,w)=>({type:'line',data:pts.map(p=>({x:p[0],y:p[1]})),borderColor:dash?'#444':'#000',borderWidth:w,borderDash:dash?[2,2]:[],pointRadius:0,fill:false});
  new Chart(mk(b),{type:'scatter',data:{datasets:[
    {type:'scatter',data:qqTheo.map((t,i)=>({x:t,y:samp[i]})),pointRadius:2,backgroundColor:'#000',borderWidth:0},
    seg(line,false,0.8),seg(up,true,0.7),seg(lo,true,0.7)
  ]},options:{layout:{padding:P(b,a)},scales:{x:HS(xr[0],xr[1]),y:HS(yr[0],yr[1])}},
  plugins:[after(b,(c,ctx)=>{
    const r=A(c,b);
    rAxis(c,b,{side:'l',ticks:yt,labels:yt.map(String),tl:3.5,lo:12,font:F(8.5),full:true});
    rAxis(c,b,{side:'b',ticks:qqXTicks,labels:qqXTicks.map(String),tl:3.5,lo:16.7,font:F(8.5),full:true});
    T(ctx,title,(r.l+r.r)/2,636.7,{f:F(10,'bold')});
    T(ctx,'Theoretical Quantiles',(r.l+r.r)/2,797,{f:F(8.5)});
    T(ctx,'Sample Quantiles',ytx,708,{f:F(8.5),r:ROT});
  })]});
}
qq({l:0,t:628,w:212,h:172},{l:41,t:656,r:198,b:760},[-2.577,2.657],[-7.953,5.606],qqFixed,fixedLine,fixedUpper,fixedLower,fixedYTicks,'Fixed',8.3);
qq({l:218,t:628,w:215,h:172},{l:262,t:657,r:419,b:761},[-2.566,2.599],[-3.164,2.712],qqRandom,randLine,randUpper,randLower,randYTicks,'Random',226.7);
</script></body></html>
